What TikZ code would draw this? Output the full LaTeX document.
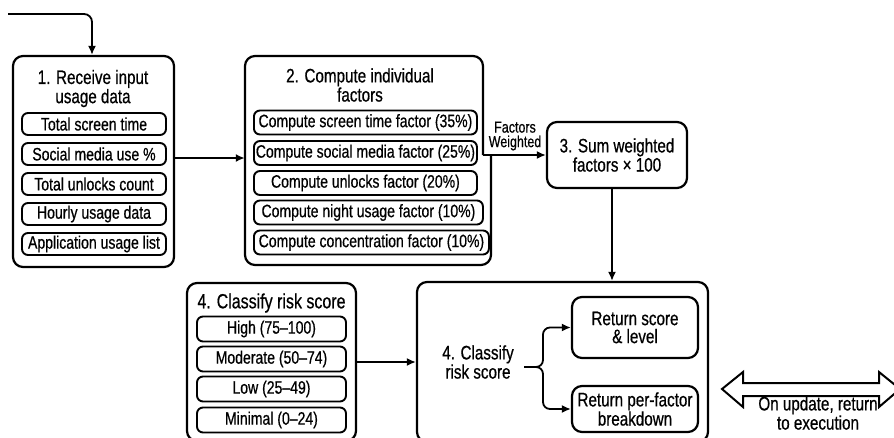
\documentclass[tikz,border=0pt]{standalone}
\usepackage{fontspec}
\setmainfont{Liberation Sans}[FakeStretch=0.78,FakeBold=0.6]
\usetikzlibrary{arrows.meta}
\begin{document}
\begin{tikzpicture}[x=1pt,y=-1pt,
 outer/.style={draw, line width=2.2pt, rounded corners=10pt, inner sep=0pt},
 inbox/.style={draw, line width=1.9pt, rounded corners=6pt, inner sep=0pt, font=\fontsize{18}{18}\selectfont},
 ttl/.style={align=center, inner sep=0pt, font=\fontsize{19.5}{18}\selectfont},
 arr/.style={line width=1.8pt, -{Latex[length=9pt,width=8pt]}},
 bigarrow/.style={line width=2pt, fill=white, line join=miter}
]
\useasboundingbox (0,0) rectangle (894,437);
\clip (0,0) rectangle (894,437);

% Box 1
\node[outer, minimum width=161pt, minimum height=211pt] (b1) at (93.5,161.5) {};
\node[ttl] (t1) at (93,88.5) {1. Receive input\\usage data};
\node[inbox, minimum width=144pt, minimum height=22pt] (i11) at (94,124) {Total screen time};
\node[inbox, minimum width=144pt, minimum height=22pt] (i12) at (94,154) {Social media use \%};
\node[inbox, minimum width=144pt, minimum height=22pt] (i13) at (94,184) {Total unlocks count};
\node[inbox, minimum width=144pt, minimum height=22pt] (i14) at (94,214) {Hourly usage data};
\node[inbox, minimum width=144pt, minimum height=22pt] (i15) at (94,244) {Application usage list};

\coordinate (in) at (8,14);
\draw[arr, rounded corners=8pt] (in) -| ([xshift=-1.5pt]b1.north);

% Box 2
\node[minimum width=246pt, minimum height=209pt, inner sep=0pt] (b2) at (368,160.5) {};
\coordinate (fw) at (483,155);
\draw[line width=2.2pt, rounded corners=10pt] (fw) -- (483,56) -- (245,56) -- (245,265) -- (491,265) -- (491,155);
\node[ttl] (t2) at (360,85) {2. Compute individual\\factors};
\node[inbox, minimum width=223pt, minimum height=24pt, anchor=west] (i21) at (253,122.5) {Compute screen time factor (35\%)};
\node[inbox, minimum width=223pt, minimum height=24pt, anchor=west] (i22) at (253,153) {Compute social media factor (25\%)};
\node[inbox, minimum width=223pt, minimum height=24pt, anchor=west] (i23) at (253,183) {Compute unlocks factor (20\%)};
\node[inbox, minimum width=229pt, minimum height=24pt, anchor=west] (i24) at (253,212.5) {Compute night usage factor (10\%)};
\node[inbox, minimum width=235pt, minimum height=24pt, anchor=west] (i25) at (253,242.5) {Compute concentration factor (10\%)};

\draw[arr] (b1.east |- 0,158) -- (b2.west |- 0,158);

% Box 3
\node[outer, minimum width=140pt, minimum height=66pt, align=center, font=\fontsize{19.5}{17}\selectfont] (b3) at (617,155) {3. Sum weighted\\factors × 100};
\draw[arr] (fw) -- (b3.west);
\node[inner sep=0pt, align=center, font=\fontsize{16}{14.5}\selectfont] (fwl) at (515,136) {Factors\\Weighted};

% Box 4
\node[outer, minimum width=169pt, minimum height=158pt] (b4) at (271.5,362) {};
\node[ttl, font=\fontsize{20.5}{18}\selectfont] (t4) at (271.5,303) {4. Classify risk score};
\node[inbox, minimum width=149pt, minimum height=25pt] (i41) at (271.5,329) {High (75--100)};
\node[inbox, minimum width=149pt, minimum height=25pt] (i42) at (271.5,359) {Moderate (50--74)};
\node[inbox, minimum width=149pt, minimum height=25pt] (i43) at (271.5,389) {Low (25--49)};
\node[inbox, minimum width=149pt, minimum height=25pt] (i44) at (271.5,420) {Minimal (0--24)};

% Box 5
\node[outer, minimum width=291pt, minimum height=160pt] (b5) at (562.5,362) {};
\node[ttl] (cls) at (478,362) {4. Classify\\risk score};
\node[outer, minimum width=126pt, minimum height=61pt, align=center, font=\fontsize{19.5}{18}\selectfont] (rs) at (635,327.5) {Return score\\\& level};
\node[outer, minimum width=126pt, minimum height=46pt, align=center, font=\fontsize{19.5}{17}\selectfont] (bd) at (635,409) {Return per-factor\\breakdown};

\draw[arr] ([xshift=-5pt]b3.south) -- ([xshift=-5pt]b3.south |- b5.north);
\draw[arr] (b4.east) -- (b5.west);

\coordinate (br) at (524,367);
\draw[arr, rounded corners=7pt] (br) -- (543,367) |- (rs.west);
\draw[arr, rounded corners=7pt] (br) -- (543,367) |- (bd.west);

% Double arrow
\draw[bigarrow] (722,389) -- (743,372) -- (743,383) -- (879,383) -- (879,372) -- (900,389) -- (879,407) -- (879,396) -- (743,396) -- (743,407) -- cycle;
\node[ttl, font=\fontsize{19.5}{17}\selectfont] (upd) at (818,413) {On update, return\\to execution};
\end{tikzpicture}
\end{document}
